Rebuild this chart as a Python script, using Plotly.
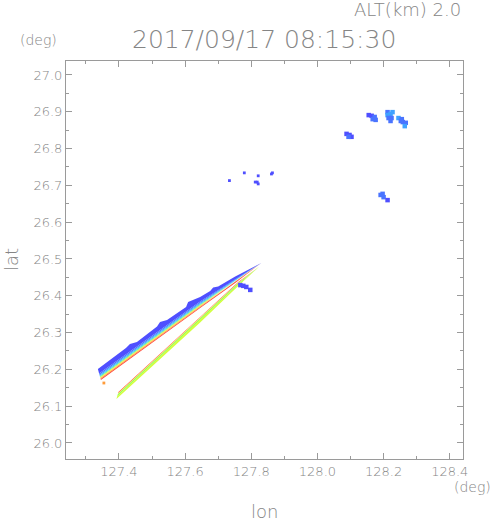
import plotly.graph_objects as go

# ---------------- data ----------------
# colour level of each echo class (0 = dark blue ... 9 = red)
LEVEL_COLORS = ["#4f4fff", "#4a74ff", "#3fa2ff", "#3cd2ee", "#5cf0b0",
                "#8cff5a", "#d2ff3e", "#ffe63c", "#ff9c3a", "#ff4c3a"]

# Upper echo streak: band boundaries (top -> bottom) at three stations along it
upper_left_lon = [127.3364, 127.3400, 127.3411, 127.3420, 127.3427, 127.3434, 127.3440, 127.3447, 127.3455]
upper_left_lat = [26.2011, 26.1891, 26.1855, 26.1826, 26.1802, 26.1781, 26.1760, 26.1736, 26.1712]
upper_mid_lon = 127.6455
upper_mid_lat = [26.3967, 26.3848, 26.3812, 26.3782, 26.3758, 26.3737, 26.3716, 26.3692, 26.3668]
upper_ne_lon = 127.7515
upper_ne_lat = [26.4524, 26.4454, 26.4433, 26.4415, 26.4401, 26.4388, 26.4376, 26.4362, 26.4348]
upper_tip = (127.8303, 26.4891)
upper_levels = [0, 1, 2, 3, 5, 7, 8, 9]
# ragged northern edge of the upper streak
upper_top_lon = [127.3364, 127.4212, 127.4333, 127.4545, 127.5152, 127.5242, 127.5455,
                 127.6030, 127.6091, 127.6303, 127.6455, 127.6758, 127.6848, 127.7000,
                 127.7515, 127.8303]
upper_top_lat = [26.2011, 26.2582, 26.2690, 26.2745, 26.3166, 26.3288, 26.3342,
                 26.3696, 26.3832, 26.3899, 26.3967, 26.4130, 26.4226, 26.4253,
                 26.4524, 26.4891]

# Lower echo streak
lower_left_lon = [127.3985, 127.3974, 127.3965, 127.3948, 127.3924]
lower_left_lat = [26.1386, 26.1352, 26.1325, 26.1272, 26.1196]
lower_mid_lon = 127.6455
lower_mid_lat = [26.3438, 26.3408, 26.3385, 26.3340, 26.3274]
lower_ne_lon = 127.7606
lower_ne_lat = [26.4375, 26.4355, 26.4340, 26.4310, 26.4266]
lower_tip = (127.8242, 26.4796)
lower_levels = [9, 7, 5, 6]

# isolated echo cells
cell_lon = [128.155, 128.164, 128.167, 128.176, 128.173,
            128.212, 128.212, 128.221, 128.215, 128.224, 128.221, 128.227,
            128.245, 128.255, 128.258, 128.267, 128.264, 128.252,
            128.088, 128.097, 128.103, 128.094,
            128.197, 128.191, 128.200, 128.212,
            127.767, 127.776, 127.785, 127.797]
cell_lat = [26.891, 26.889, 26.880, 26.878, 26.886,
            26.899, 26.891, 26.894, 26.883, 26.883, 26.875, 26.899,
            26.883, 26.880, 26.872, 26.870, 26.861, 26.875,
            26.840, 26.837, 26.832, 26.832,
            26.677, 26.674, 26.668, 26.660,
            26.429, 26.427, 26.424, 26.416]
cell_level = [0, 0, 1, 1, 1,
              1, 2, 2, 1, 1, 1, 2,
              2, 1, 1, 1, 2, 1,
              0, 0, 0, 1,
              1, 1, 1, 0,
              0, 0, 0, 0]

# tiny specks
speck_lon = [127.734, 127.779, 127.812, 127.818, 127.821, 127.821, 127.861, 127.864, 127.3545]
speck_lat = [26.713, 26.734, 26.709, 26.709, 26.704, 26.726, 26.731, 26.734, 26.163]
speck_level = [0, 0, 0, 0, 0, 0, 0, 0, 8]

x_range = [127.24, 128.44]
y_range = [25.9565, 27.038]

TITLE = "2017/09/17 08:15:30"
ALT_TEXT = "ALT(km) 2.0"

# ---------------- figure ----------------
fig = go.Figure()


def add_poly(lons, lats, level):
    fig.add_trace(go.Scatter(x=lons, y=lats, mode="lines", fill="toself",
                             fillcolor=LEVEL_COLORS[level], line=dict(width=0),
                             hoverinfo="skip", showlegend=False))


# upper streak bands
for i, lev in enumerate(upper_levels):
    if i == 0:
        top_lon = list(upper_top_lon)
        top_lat = list(upper_top_lat)
    else:
        top_lon = [upper_left_lon[i], upper_mid_lon, upper_ne_lon, upper_tip[0]]
        top_lat = [upper_left_lat[i], upper_mid_lat[i], upper_ne_lat[i], upper_tip[1]]
    bot_lon = [upper_ne_lon, upper_mid_lon, upper_left_lon[i + 1]]
    bot_lat = [upper_ne_lat[i + 1], upper_mid_lat[i + 1], upper_left_lat[i + 1]]
    add_poly(top_lon + bot_lon, top_lat + bot_lat, lev)

# lower streak bands
for i, lev in enumerate(lower_levels):
    lons = [lower_left_lon[i], lower_mid_lon, lower_ne_lon, lower_tip[0],
            lower_ne_lon, lower_mid_lon, lower_left_lon[i + 1]]
    lats = [lower_left_lat[i], lower_mid_lat[i], lower_ne_lat[i], lower_tip[1],
            lower_ne_lat[i + 1], lower_mid_lat[i + 1], lower_left_lat[i + 1]]
    add_poly(lons, lats, lev)

fig.add_trace(go.Scatter(x=cell_lon, y=cell_lat, mode="markers",
                         marker=dict(symbol="square", size=4.5,
                                     color=[LEVEL_COLORS[l] for l in cell_level],
                                     line=dict(width=0)),
                         hoverinfo="skip", showlegend=False))
fig.add_trace(go.Scatter(x=speck_lon, y=speck_lat, mode="markers",
                         marker=dict(symbol="square", size=2.8,
                                     color=[LEVEL_COLORS[l] for l in speck_level],
                                     line=dict(width=0)),
                         hoverinfo="skip", showlegend=False))

FONT = "DejaVu Sans"
TXT = "#858585"
FRAME = "#9a9a9a"


def f(size):
    return dict(family=FONT, size=size, color=TXT, weight=200)


axis_common = dict(showline=True, linecolor=FRAME, linewidth=1, mirror="allticks",
                   ticks="inside", ticklen=6, tickcolor=FRAME, tickwidth=1,
                   showgrid=False, zeroline=False, tickformat=".1f",
                   tickfont=f(13), fixedrange=True)

fig.update_layout(
    width=491, height=521,
    margin=dict(l=66, r=28, t=61, b=62, pad=0),
    paper_bgcolor="white", plot_bgcolor="white",
    xaxis=dict(range=x_range, tick0=127.4, dtick=0.2,
               minor=dict(dtick=0.1, tick0=127.3, ticks="inside", ticklen=3,
                          tickcolor=FRAME, showgrid=False),
               **axis_common),
    yaxis=dict(range=y_range, tick0=26.0, dtick=0.1,
               minor=dict(dtick=0.05, tick0=26.0, ticks="inside", ticklen=3,
                          tickcolor=FRAME, showgrid=False),
               **axis_common),
    annotations=[
        dict(text=TITLE, x=0.499, y=1.054, xref="paper", yref="paper",
             xanchor="center", yanchor="middle", showarrow=False, font=f(25)),
        dict(text=ALT_TEXT, x=1.0, y=1.129, xref="paper", yref="paper",
             xanchor="right", yanchor="middle", showarrow=False, font=f(18)),
        dict(text="(deg)", x=-0.0705, y=1.053, xref="paper", yref="paper",
             xanchor="center", yanchor="middle", showarrow=False, font=f(14)),
        dict(text="(deg)", x=1.0227, y=-0.0704, xref="paper", yref="paper",
             xanchor="center", yanchor="middle", showarrow=False, font=f(14)),
        dict(text="lon", x=0.501, y=-0.133, xref="paper", yref="paper",
             xanchor="center", yanchor="middle", showarrow=False, font=f(18)),
        dict(text="lat", x=-0.1385, y=0.5, xref="paper", yref="paper",
             xanchor="center", yanchor="middle", showarrow=False, textangle=-90,
             font=f(18)),
    ],
)

fig.write_html("out.html", config={"displayModeBar": False},
               post_script="document.body.style.margin='0';")
